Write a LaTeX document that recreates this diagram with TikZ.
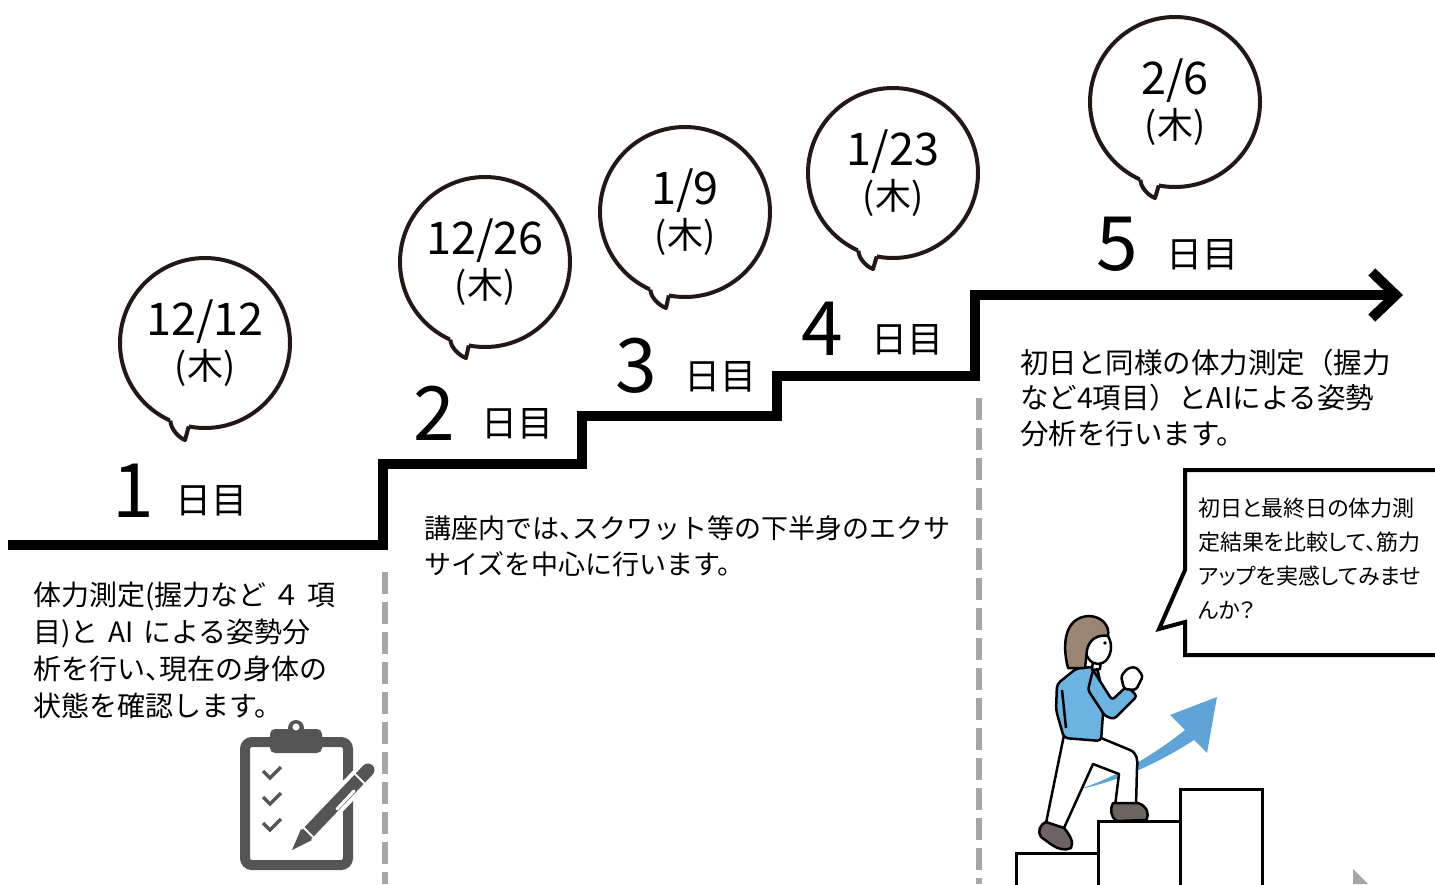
\documentclass[tikz,border=0pt]{standalone}
\usepackage{fontspec}
\setmainfont{Noto Sans CJK JP}
\newfontfamily\paltfont{Noto Sans CJK JP}[RawFeature=+palt]
\usetikzlibrary{arrows.meta}
\definecolor{ink}{HTML}{231815}
\definecolor{rule}{HTML}{A6A6A6}
\definecolor{icon}{HTML}{555555}
\definecolor{shirt}{HTML}{6BB3E0}
\definecolor{upblue}{HTML}{5FA3D7}
\definecolor{hair}{HTML}{9A8472}
\definecolor{shoe}{HTML}{6B6461}
% narrow comma
\newcommand{\tou}{\makebox[0.5em][l]{、}}

\begin{document}
\begin{tikzpicture}[x=1pt,y=-1pt,every node/.style={inner sep=0pt,outer sep=0pt},
  stair/.style={line width=10pt},
  divider/.style={draw=rule,line width=6pt,dash pattern=on 22pt off 8pt},
  bubble/.style={circle,draw=ink,line width=4pt,fill=white,minimum size=170pt,align=center,font=\fontsize{36}{44}\selectfont},
  bubbletail/.style={draw=ink,line width=4pt,line join=round},
  daynum/.style={anchor=base west,font=\fontsize{75}{75}\selectfont},
  daylbl/.style={anchor=base west,font=\fontsize{36}{36}\selectfont},
  note/.style={anchor=north west,align=left},
  stepbox/.style={draw=black,fill=white,line width=3pt},
  figline/.style={draw=black,line width=2.5pt,line join=round}]
\useasboundingbox (0,0) rectangle (1435,884);

% the staircase
\draw[stair,-{Straight Barb[length=24pt,width=46pt]}] (8,545) -- (383,545) -- (383,464) -- (582,464) -- (582,416) -- (777,416)
  -- (777,376) -- (975,376) -- (975,295) -- (1403,295);
\draw[divider] (385,572) -- (385,884);
\draw[divider] (979,398) -- (979,884);

% dates
\node[bubble] (b1) at (205,343) {{\fontsize{45}{44}\selectfont 12/12}\\(木)};
\node[bubble] (b2) at (485,262) {{\fontsize{45}{44}\selectfont 12/26}\\(木)};
\node[bubble] (b3) at (685,212) {{\fontsize{45}{44}\selectfont 1/9}\\(木)};
\node[bubble] (b4) at (893,173) {{\fontsize{45}{44}\selectfont 1/23}\\(木)};
\node[bubble] (b5) at (1175,102) {{\fontsize{45}{44}\selectfont 2/6}\\(木)};
\coordinate (t1) at (185,440);
\coordinate (t2) at (466,358);
\coordinate (t3) at (666,308);
\coordinate (t4) at (873,269);
\coordinate (t5) at (1155,198);
\fill[white] ([yshift=5pt]b1.246) -- (b1.246) -- (t1) -- (b1.259) -- ([yshift=5pt]b1.259) -- cycle;
\draw[bubbletail] (b1.246) .. controls +(0,8) and +(-6,-2) .. (t1) -- (b1.259);
\fill[white] ([yshift=5pt]b2.246) -- (b2.246) -- (t2) -- (b2.259) -- ([yshift=5pt]b2.259) -- cycle;
\draw[bubbletail] (b2.246) .. controls +(0,8) and +(-6,-2) .. (t2) -- (b2.259);
\fill[white] ([yshift=5pt]b3.246) -- (b3.246) -- (t3) -- (b3.259) -- ([yshift=5pt]b3.259) -- cycle;
\draw[bubbletail] (b3.246) .. controls +(0,8) and +(-6,-2) .. (t3) -- (b3.259);
\fill[white] ([yshift=5pt]b4.246) -- (b4.246) -- (t4) -- (b4.259) -- ([yshift=5pt]b4.259) -- cycle;
\draw[bubbletail] (b4.246) .. controls +(0,8) and +(-6,-2) .. (t4) -- (b4.259);
\fill[white] ([yshift=5pt]b5.246) -- (b5.246) -- (t5) -- (b5.259) -- ([yshift=5pt]b5.259) -- cycle;
\draw[bubbletail] (b5.246) .. controls +(0,8) and +(-6,-2) .. (t5) -- (b5.259);

% day labels
\node[daynum] (n1) at (112,517) {1};
\node[daylbl] (l1) at (175,513) {日目};
\node[daynum] (n2) at (413,440) {2};
\node[daylbl] (l2) at (481,436) {日目};
\node[daynum] (n3) at (615,392) {3};
\node[daylbl] (l3) at (684,389) {日目};
\node[daynum] (n4) at (801,355) {4};
\node[daylbl] (l4) at (871,352) {日目};
\node[daynum] (n5) at (1096,270) {5};
\node[daylbl] (l5) at (1166,267) {日目};

% descriptions
\node[note,font=\fontsize{28}{37}\selectfont] (note1) at (33,582) {体力測定(握力など ４ 項\\目)と\hspace{10pt}AI\hspace{10pt}による姿勢分\\析を行い\tou 現在の身体の\\状態を確認します。};
\node[note,font=\fontsize{27}{36}\selectfont] (note2) at (424,516) {講座内では\tou スクワット等の下半身のエクサ\\サイズを中心に行います。};
\node[note,font=\fontsize{28.5}{35.5}\selectfont] (note5) at (1020,349) {初日と同様の体力測定（握力\\など4項目）とAIによる姿勢\\分析を行います。};

% clipboard
\draw[draw=icon,line width=10pt,rounded corners=7pt] (245,742) rectangle (348,865);
\fill[icon,rounded corners=5pt] (270,729) rectangle (322,753);
\fill[icon] (296,728) circle (8);
\fill[white] (296,727) circle (3.5);
\draw[icon,line width=3.5pt] (263,771) -- (270,778) -- (281,767);
\draw[icon,line width=3.5pt] (263,797) -- (270,804) -- (281,793);
\draw[icon,line width=3.5pt] (263,823) -- (270,830) -- (281,819);
\draw[white,line width=21pt,line cap=round] (303,838) -- (369,769);
\draw[icon,line width=13pt,line cap=round] (307,834) -- (368,770);
\fill[icon] (292,850) -- (301,829) -- (312,840) -- cycle;
\draw[white,line width=2pt] (302,826) -- (313,837);
\draw[white,line width=2pt] (354,773) -- (365,784);
\draw[white,line width=3pt,line cap=round] (337,809) -- (354,791);

% speech box
\draw[line width=4pt,line join=miter] (1185,570) -- (1185,470) -- (1445,470) -- (1445,655) -- (1185,655) -- (1185,622) -- (1159,629) -- cycle;
\node[note,font=\paltfont\fontsize{22}{34}\selectfont] (ask) at (1198,498) {初日と最終日の体力測\\定結果を比較して、筋力\\アップを実感してみませ\\んか？};

% steps and rising arrow
\draw[stepbox] (1016,853) rectangle (1098,895);
\draw[stepbox] (1098,821) rectangle (1180,895);
\draw[stepbox] (1180,789) rectangle (1262,895);
\fill[upblue] (1080,789) .. controls (1120,781) and (1160,762) .. (1194,740) -- (1207,753) -- (1217,697) -- (1170,715)
  -- (1185,730) .. controls (1152,756) and (1118,776) .. cycle;

% the climber
\filldraw[figline,fill=white] (1064,735) -- (1101,738) -- (1130,750) .. controls (1137,753) and (1138,760) .. (1137,768)
  -- (1136,806) -- (1115,806) -- (1119,774) -- (1093,764) -- (1064,828) -- (1046,823) -- cycle;
\filldraw[figline,fill=shirt,rounded corners=4pt] (1057,684) -- (1077,668) -- (1097,667) -- (1104,700) -- (1101,741)
  -- (1064,738) -- (1056,710) -- cycle;
\draw[figline] (1062,690) -- (1066,728);
\filldraw[figline,fill=shirt,rounded corners=3pt] (1093,670) -- (1112,700) -- (1127,686) -- (1137,696) -- (1114,719)
  -- (1105,716) -- (1088,690) -- cycle;
\filldraw[figline,fill=white,rounded corners=3pt] (1124,689) -- (1121,676) -- (1128,668) -- (1136,667) -- (1143,676)
  -- (1136,690) -- cycle;
\filldraw[figline,fill=white] (1093,660) -- (1092,670) -- (1100,669) -- (1101,660) -- cycle;
\filldraw[figline,fill=white] (1098,647) ellipse [x radius=13, y radius=17];
\fill (1105,643) circle (1.8);
\filldraw[figline,fill=hair] (1068,668) .. controls (1062,645) and (1064,618) .. (1088,616)
  .. controls (1102,616) and (1110,626) .. (1108,636) .. controls (1097,634) and (1089,640) .. (1087,650)
  -- (1085,668) -- cycle;
\filldraw[figline,fill=shoe] (1113,803) -- (1138,803) .. controls (1147,806) and (1150,814) .. (1146,820)
  -- (1117,821) .. controls (1110,817) and (1110,808) .. cycle;
\filldraw[figline,fill=shoe] (1046,822) -- (1064,828) .. controls (1070,835) and (1074,842) .. (1071,848)
  .. controls (1065,851) and (1058,849) .. (1052,845) -- (1041,837) .. controls (1037,832) and (1040,824) .. cycle;

\fill[rule] (1353,869) -- (1368,884) -- (1353,884) -- cycle;
\end{tikzpicture}
\end{document}
